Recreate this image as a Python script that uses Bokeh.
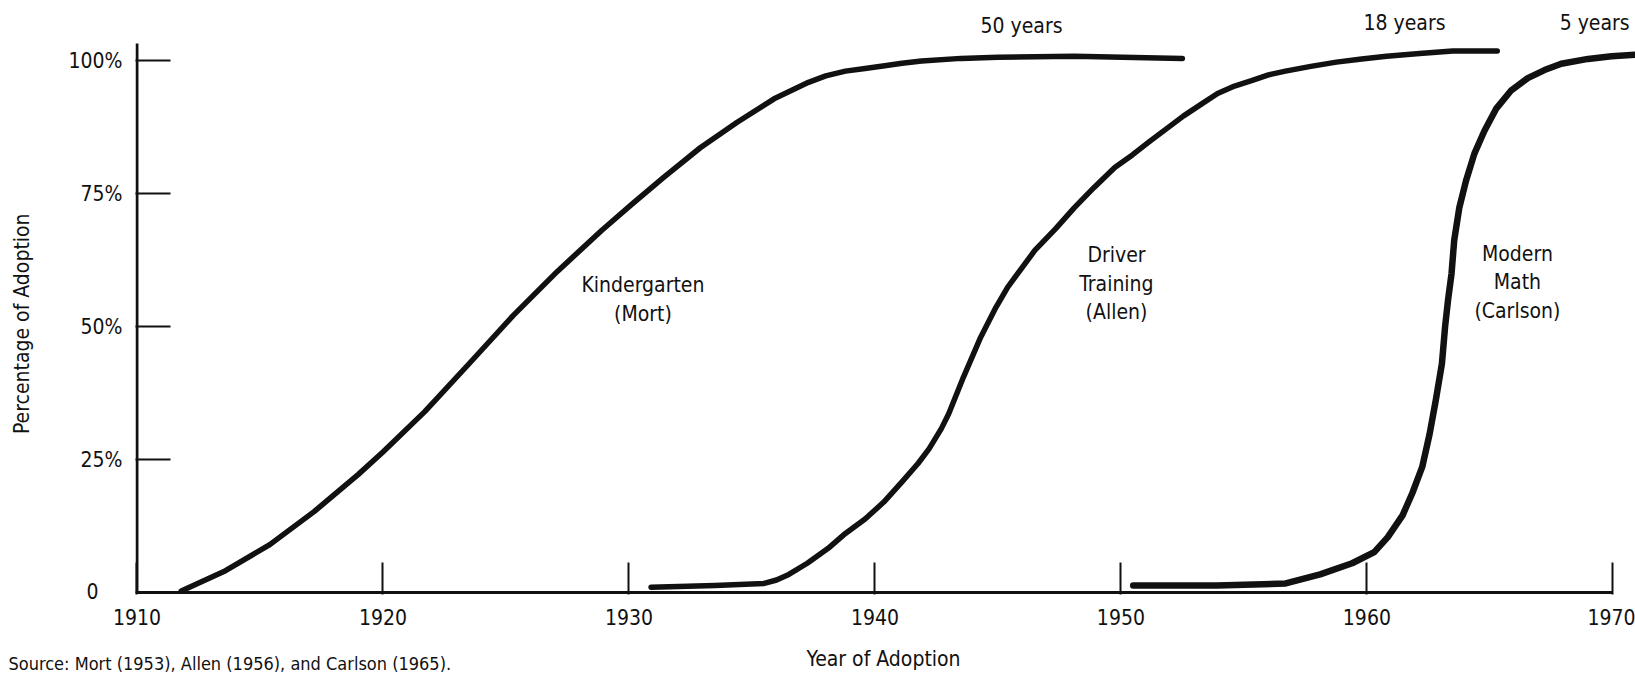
import math
from bokeh.plotting import figure
from bokeh.layouts import row, column
from bokeh.models import FixedTicker, Range1d
from bokeh.core.properties import value
from bokeh.embed import file_html
from bokeh.resources import INLINE

# ---------------- data ----------------
kg_year = [1911.8, 1913.6, 1915.4, 1917.2, 1919.0, 1920.0, 1921.7, 1923.5, 1925.3,
           1927.1, 1928.9, 1930.1, 1931.4, 1932.9, 1934.4, 1935.9, 1937.3, 1938.0,
           1938.8, 1939.6, 1940.4, 1941.1, 1941.9, 1943.5, 1945.0, 1948.1, 1952.5]
kg_pct = [0.3, 4.1, 9.0, 15.2, 22.2, 26.4, 34.0, 43.0, 52.1,
          60.4, 68.1, 72.9, 78.0, 83.6, 88.4, 92.8, 95.9, 97.1,
          98.0, 98.5, 99.0, 99.5, 99.9, 100.4, 100.6, 100.8, 100.4]

dt_year = [1930.9, 1933.5, 1935.5, 1936.0, 1936.5, 1937.25, 1938.1, 1938.8, 1939.6,
           1940.36, 1941.1, 1941.76, 1942.2, 1942.7, 1943.0, 1943.6, 1944.3, 1944.92,
           1945.4, 1946.5, 1947.35, 1948.1, 1948.9, 1949.75, 1950.48, 1951.17, 1951.86,
           1952.55, 1953.24, 1953.93, 1954.62, 1955.31, 1956.0, 1956.69, 1957.72,
           1958.76, 1959.79, 1960.8, 1962.14, 1963.49, 1965.3]
dt_pct = [1.0, 1.3, 1.7, 2.35, 3.4, 5.5, 8.3, 11.1, 13.8,
          17.0, 20.8, 24.3, 27.0, 30.8, 33.6, 40.5, 48.0, 53.6,
          57.4, 64.3, 68.4, 72.3, 76.1, 79.9, 82.3, 84.8, 87.2,
          89.6, 91.7, 93.8, 95.2, 96.2, 97.3, 98.0, 98.9,
          99.7, 100.3, 100.8, 101.3, 101.8, 101.8]

mm_year = [1950.5, 1953.9, 1956.7, 1958.1, 1959.4, 1960.3, 1960.85, 1961.45, 1961.85,
           1962.25, 1962.55, 1962.8, 1963.05, 1963.18, 1963.3, 1963.44, 1963.55, 1963.76,
           1964.03, 1964.37, 1964.78, 1965.25, 1965.87, 1966.54, 1967.22, 1967.9,
           1968.99, 1969.95, 1970.9]
mm_pct = [1.3, 1.3, 1.7, 3.4, 5.5, 7.6, 10.4, 14.5, 18.7,
          23.6, 29.8, 36.1, 43.0, 50.0, 55.0, 59.9, 66.2, 72.4,
          77.4, 82.5, 86.8, 90.9, 94.4, 96.7, 98.2, 99.4,
          100.3, 100.8, 101.1]

x_ticks = [1910, 1920, 1930, 1940, 1950, 1960, 1970]
y_ticks = [0, 25, 50, 75, 100]
y_tick_labels = ["0\u00a0\u00a0\u00a0\u00a0", "25%", "50%", "75%", "100%"]

series_names = ["Kindergarten\n(Mort)", "Driver\nTraining\n(Allen)", "Modern\nMath\n(Carlson)"]
durations = ["50 years", "18 years", "5 years"]
x_title = "Year of Adoption"
y_title = "Percentage of Adoption"
source_note = "Source: Mort (1953), Allen (1956), and Carlson (1965)."

# ---------------- styling / layout ----------------
FONT = "DejaVu Sans Condensed, Roboto"
INK = "#111111"
LEFT_W = 48
TOP_H = 634

p = figure(width=1635 - LEFT_W, height=TOP_H,
           x_range=Range1d(1909.94, 1970.92), y_range=Range1d(-0.376, 111.28),
           output_backend="svg", toolbar_location=None,
           min_border_left=87, min_border_right=0, min_border_top=0,
           min_border_bottom=40)
p.outline_line_color = None
p.grid.visible = False

xa = p.xaxis[0]
xa.ticker = FixedTicker(ticks=x_ticks)
xa.axis_line_color = None
xa.major_tick_in = 32
xa.major_tick_out = 0
xa.major_tick_line_width = 2
xa.major_tick_line_color = INK
xa.minor_tick_line_color = None
xa.major_label_standoff = 14
xa.major_label_text_font = FONT
xa.major_label_text_font_size = "21px"
xa.major_label_text_color = INK

ya = p.yaxis[0]
ya.ticker = FixedTicker(ticks=y_ticks)
ya.major_label_overrides = {t: s for t, s in zip(y_ticks, y_tick_labels)}
ya.axis_line_color = None
ya.major_tick_in = 35
ya.major_tick_out = 0
ya.major_tick_line_width = 2
ya.major_tick_line_color = INK
ya.minor_tick_line_color = None
ya.major_label_standoff = 13
ya.major_label_text_font = FONT
ya.major_label_text_font_size = "21px"
ya.major_label_text_color = INK

# axis lines: y axis stops a little above 100 %, x axis stops at 1970
p.segment(x0=[x_ticks[0], x_ticks[0]], y0=[y_ticks[0], y_ticks[0]],
          x1=[x_ticks[0], x_ticks[-1]], y1=[103.2, y_ticks[0]],
          line_width=3, line_color=INK)

for xs, ys, w in [(kg_year, kg_pct, 5.5), (dt_year, dt_pct, 5.5), (mm_year, mm_pct, 6.5)]:
    p.line(xs, ys, line_width=w, line_color=INK, line_join="round", line_cap="round")

lab_x = [1930.57, 1949.82, 1966.12]
lab_y = [55.05, 58.0, 58.3]
for name, lx, ly in zip(series_names, lab_x, lab_y):
    lines = name.split("\n")
    n = len(lines)
    for i, ln in enumerate(lines):
        yy = ly + ((n - 1) / 2 - i) * 5.35
        p.text(x=[lx], y=[yy], text=[ln], text_align="center", text_baseline="middle",
               text_font=value(FONT), text_font_size="21px", text_color=INK)

dur_x = [1945.96, 1961.53, 1969.26]
dur_y = [106.4, 107.0, 107.0]
p.text(x=dur_x, y=dur_y, text=durations, text_align="center", text_baseline="middle",
       text_font=value(FONT), text_font_size="21px", text_color=INK)

# left strip with the y-axis title
left = figure(width=LEFT_W, height=TOP_H, x_range=Range1d(0, LEFT_W), y_range=Range1d(0, TOP_H),
              x_axis_type=None, y_axis_type=None, output_backend="svg",
              toolbar_location=None, min_border=0)
left.outline_line_color = None
left.text(x=[21], y=[TOP_H - 345], text=[y_title], angle=math.pi / 2,
          text_align="center", text_baseline="middle",
          text_font=value(FONT), text_font_size="21px", text_color=INK)

# bottom strip with the x-axis title and the source note
BOT_H = 674 - TOP_H
bottom = figure(width=1635, height=BOT_H, x_range=Range1d(0, 1635), y_range=Range1d(0, BOT_H),
                x_axis_type=None, y_axis_type=None, output_backend="svg",
                toolbar_location=None, min_border=0)
bottom.outline_line_color = None
bottom.text(x=[883], y=[16], text=[x_title], text_align="center", text_baseline="middle",
            text_font=value(FONT), text_font_size="21px", text_color=INK)
bottom.text(x=[8], y=[22], text=[source_note], text_align="left", text_baseline="top",
            text_font=value(FONT), text_font_size="18px", text_color=INK)

layout = column(row(left, p), bottom)
open("out.html", "w").write(file_html(layout, INLINE))
